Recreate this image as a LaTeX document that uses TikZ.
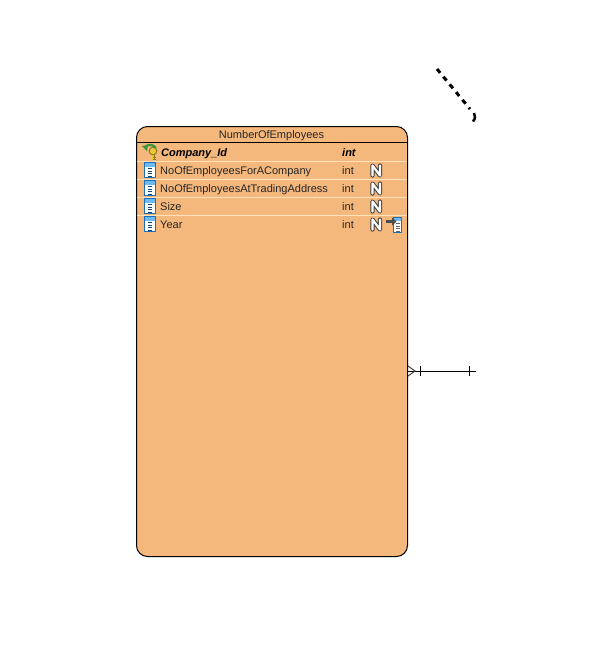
\documentclass[tikz,border=0pt]{standalone}
\usepackage{fontspec}
\setmainfont{Liberation Sans}
\definecolor{tablefill}{RGB}{244,183,124}
\definecolor{rowline}{RGB}{255,226,186}
\definecolor{iconblue}{RGB}{30,110,190}
\definecolor{iconsky}{RGB}{110,185,240}
\definecolor{keygold}{RGB}{240,200,50}
\definecolor{keygreen}{RGB}{60,150,60}
\tikzset{
  x=1pt,y=-1pt,
  tablebox/.style={draw=black,line width=1pt,fill=tablefill,rounded corners=11pt,minimum width=271pt,minimum height=430pt,inner sep=0pt,outer sep=0pt,anchor=north west},
  celltext/.style={font=\fontsize{11}{12}\selectfont,anchor=base west,inner sep=0pt,text=black!85},
  pkcelltext/.style={celltext,font=\fontsize{11}{12}\selectfont\bfseries\itshape,text=black},
  titletext/.style={font=\fontsize{11}{12}\selectfont,anchor=base,inner sep=0pt,text=black!85},
  rowsep/.style={draw=rowline,line width=1pt},
  relline/.style={draw=black,line width=1pt},
  dashline/.style={draw=black,line width=3pt,dash pattern=on 5pt off 5pt},
  hookline/.style={draw=black,line width=2.5pt},
  pics/colicon/.style={code={
    \fill[white] (0,0) rectangle (12,16);
    \fill[iconsky] (0,0) rectangle (12,4.5);
    \draw[iconblue,line width=1pt] (0.5,0.5) rectangle (11.5,15.5);
    \foreach \yy in {6.5,9,11.5,14}{\draw[iconblue!60!black,line width=1pt] (4,\yy)--(8,\yy);}
  }},
  pics/nullicon/.style={code={
    \draw[black!75,line width=4.2pt,line join=round,line cap=round] (1.5,11.5)--(1.5,1.5)--(9,11.5)--(9,1.5);
    \draw[white,line width=2.2pt,line join=round,line cap=round] (1.5,11.5)--(1.5,1.5)--(9,11.5)--(9,1.5);
  }},
  pics/keyicon/.style={code={
    \draw[keygold!60!black,line width=3pt] (11,8)--(11,16);
    \draw[keygold,line width=1.5pt] (11,8)--(11,16);
    \draw[keygold!60!black,line width=1pt] (11,13)--(14,13) (11,15.5)--(14,15.5);
    \draw[keygold!60!black,line width=1pt,fill=keygold] (11,7) circle (3.8);
    \fill[tablefill] (11,6) circle (1.1);
    \draw[keygreen,line width=2.2pt] (3,3)..controls (6,0) and (11,0) ..(14,4);
    \fill[keygreen] (0,2)--(6,1)--(5,7)--cycle;
  }},
  pics/fkicon/.style={code={
    \fill[white] (7,0) rectangle (16,16);
    \fill[iconsky] (7,0) rectangle (16,4);
    \draw[iconblue,line width=1pt] (7.5,0.5) rectangle (15.5,15.5);
    \foreach \yy in {6.5,9,11.5,14}{\draw[black!60,line width=0.8pt] (10,\yy)--(14,\yy);}
    \fill[black!70] (0,3) rectangle (6,6);
    \fill[black!70] (6,0.5)--(10.5,4.5)--(6,8.5)--cycle;
  }}
}
\begin{document}
\begin{tikzpicture}
\useasboundingbox (0,0) rectangle (614,657);
\node[tablebox] (table) at (136.5,126.5) {};
\coordinate (titleL) at (136.5,142.5);
\coordinate (titleR) at (407.5,142.5);
\foreach \yy in {161.5,179.5,197.5,215.5}{\draw[rowsep] (137,\yy)--(407,\yy);}
\draw[relline] (titleL)--(titleR);
\node[titletext] (title) at (271.5,138) {NumberOfEmployees};
\node[pkcelltext] (c1) at (161,156) {Company\_Id};
\node[pkcelltext] (t1) at (342,156) {int};
\node[celltext] (c2) at (160,174) {NoOfEmployeesForACompany};
\node[celltext] (t2) at (342,174) {int};
\node[celltext] (c3) at (160,192) {NoOfEmployeesAtTradingAddress};
\node[celltext] (t3) at (342,192) {int};
\node[celltext] (c4) at (160,210) {Size};
\node[celltext] (t4) at (342,210) {int};
\node[celltext] (c5) at (160,228) {Year};
\node[celltext] (t5) at (342,228) {int};
\pic at (142,144) {keyicon};
\pic at (143.5,162) {colicon};
\pic at (143.5,180) {colicon};
\pic at (143.5,198) {colicon};
\pic at (143.5,216) {colicon};
\pic at (371,164) {nullicon};
\pic at (371,182) {nullicon};
\pic at (371,200) {nullicon};
\pic at (371,218) {nullicon};
\pic at (386,217) {fkicon};
% relationship
\coordinate (relend) at (476,371);
\coordinate (crowtip) at (415,371);
\coordinate (crowtop) at (408,366);
\coordinate (crowbot) at (408,376);
\coordinate (tickA) at (420,371);
\coordinate (tickB) at (469,371);
\draw[relline] (table.east |- relend) -- (relend);
\draw[black!75,line width=1pt] (crowtop)--(crowtip)--(crowbot);
\draw[relline] ([yshift=-5pt]tickA)--([yshift=5pt]tickA);
\draw[relline] ([yshift=-5pt]tickB)--([yshift=5pt]tickB);
% dashed line
\coordinate (dashA) at (437,69);
\coordinate (dashB) at (470,109);
\coordinate (hookA) at (474,113);
\coordinate (hookB) at (473,121.5);
\draw[dashline] (dashA)--(dashB);
\draw[hookline] (hookA)..controls (475.5,115.5) and (475.5,118.5)..(hookB);
\end{tikzpicture}
\end{document}
